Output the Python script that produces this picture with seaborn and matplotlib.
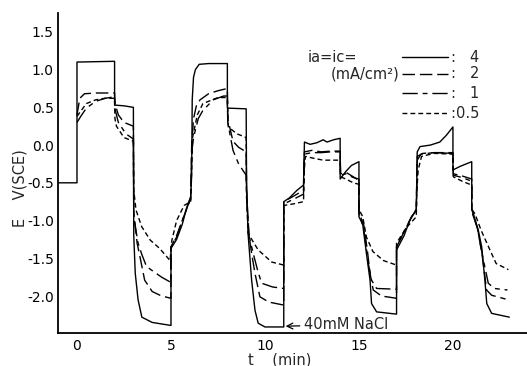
import matplotlib
matplotlib.use("Agg")
import matplotlib.pyplot as plt
import pandas as pd
import seaborn as sns
from matplotlib.lines import Line2D

# Galvanostatic cycling: anodic step, reduced anodic step, cathodic step, reduced cathodic step
# E vs SCE (V) against time (min), one trace per current density ia = ic (mA/cm2)

t_4 = [-1.0, 0.0, 0.0, 2.0, 2.0, 2.5, 3.0,
       3.02, 3.1, 3.25, 3.45, 4.0, 5.0,
       5.0, 5.3, 5.6, 5.85, 6.05,
       6.1, 6.13, 6.2, 6.3, 6.5, 7.0, 8.0, 8.0, 9.0,
       9.02, 9.1, 9.29, 9.47, 9.64, 10.0, 11.0,
       11.0, 11.3, 11.7, 12.05,
       12.1, 12.4, 12.75, 13.1, 13.3, 13.65, 14.0, 14.0, 14.3, 14.6, 15.0,
       15.0, 15.2, 15.4, 15.59, 15.67, 15.94, 17.0,
       17.0, 17.4, 17.7, 18.05,
       18.1, 18.25, 18.8, 19.3, 19.65, 20.0, 20.0, 20.4, 21.0,
       21.0, 21.35, 21.53, 21.7, 21.8, 22.06, 23.0]
v_4 = [-0.5, -0.5, 1.10, 1.11, 0.53, 0.52, 0.50,
       -1.2, -1.7, -2.05, -2.28, -2.35, -2.39,
       -1.37, -1.25, -1.05, -0.82, -0.68,
       -0.4, 0.6, 0.9, 1.0, 1.07, 1.08, 1.08, 0.49, 0.48,
       -0.5, -1.17, -1.79, -2.19, -2.36, -2.41, -2.41,
       -0.75, -0.70, -0.60, -0.53,
       0.04, 0.01, 0.03, 0.07, 0.04, 0.07, 0.09, -0.45, -0.35, -0.27, -0.22,
       -0.95, -1.05, -1.44, -1.79, -2.10, -2.21, -2.24,
       -1.39, -1.2, -1.0, -0.85,
       -0.09, -0.02, 0.0, 0.04, 0.13, 0.24, -0.33, -0.28, -0.22,
       -0.84, -1.13, -1.35, -1.79, -2.10, -2.23, -2.28]

t_2 = [0.0, 0.15, 0.4, 1.0, 2.0, 2.02, 2.2, 2.5, 3.0,
       3.02, 3.2, 3.35, 3.6, 4.0, 4.5, 5.0,
       5.0, 5.3, 5.6, 5.9, 6.05,
       6.1, 6.2, 6.35, 6.55, 7.0, 7.5, 8.0, 8.02, 8.3, 8.6, 9.0,
       9.02, 9.15, 9.3, 9.47, 9.73, 10.2, 11.0,
       11.0, 11.5, 12.05,
       12.1, 12.5, 13.0, 13.5, 14.0, 14.02, 14.3, 14.7, 15.0,
       15.0, 15.25, 15.45, 15.59, 15.76, 16.2, 17.0,
       17.0, 17.4, 17.8, 18.05,
       18.1, 18.4, 19.0, 20.0, 20.02, 20.5, 21.0,
       21.0, 21.3, 21.55, 21.79, 22.06, 22.8]
v_2 = [0.40, 0.62, 0.68, 0.69, 0.69, 0.55, 0.40, 0.30, 0.25,
       -0.9, -1.3, -1.48, -1.79, -1.94, -2.0, -2.03,
       -1.35, -1.2, -1.0, -0.8, -0.7,
       0.0, 0.35, 0.52, 0.60, 0.68, 0.72, 0.75, 0.35, 0.05, -0.03, -0.09,
       -0.6, -1.2, -1.45, -1.70, -2.01, -2.08, -2.12,
       -0.75, -0.68, -0.6,
       -0.09, -0.07, -0.09, -0.08, -0.08, -0.38, -0.36, -0.42, -0.47,
       -0.9, -1.05, -1.4, -1.70, -1.92, -2.0, -2.03,
       -1.35, -1.15, -0.95, -0.85,
       -0.15, -0.11, -0.10, -0.10, -0.38, -0.41, -0.45,
       -0.85, -1.1, -1.45, -1.92, -1.99, -2.04]

t_1 = [0.0, 0.2, 0.5, 1.0, 1.5, 2.0, 2.02, 2.2, 2.6, 3.0,
       3.02, 3.25, 3.45, 3.7, 4.5, 5.0,
       5.0, 5.3, 5.6, 5.9, 6.05,
       6.1, 6.2, 6.45, 6.7, 7.25, 7.8, 8.0, 8.02, 8.3, 8.6, 9.0,
       9.02, 9.15, 9.38, 9.6, 9.82, 10.4, 11.0,
       11.0, 11.5, 12.05,
       12.1, 12.5, 13.0, 13.5, 14.0, 14.02, 14.3, 14.7, 15.0,
       15.0, 15.25, 15.5, 15.67, 15.94, 17.0,
       17.0, 17.4, 17.8, 18.05,
       18.1, 18.3, 19.0, 20.0, 20.02, 20.5, 21.0,
       21.0, 21.3, 21.6, 21.88, 22.2, 22.9]
v_1 = [0.30, 0.38, 0.49, 0.58, 0.62, 0.64, 0.48, 0.30, 0.15, 0.08,
       -0.95, -1.30, -1.45, -1.61, -1.75, -1.82,
       -1.35, -1.22, -1.0, -0.8, -0.72,
       -0.1, 0.1, 0.35, 0.46, 0.60, 0.65, 0.65, 0.30, -0.07, -0.25, -0.40,
       -0.7, -1.2, -1.44, -1.65, -1.83, -1.88, -1.90,
       -0.78, -0.72, -0.65,
       -0.12, -0.10, -0.10, -0.09, -0.09, -0.40, -0.38, -0.43, -0.45,
       -0.9, -1.1, -1.57, -1.79, -1.9, -1.91,
       -1.35, -1.15, -0.95, -0.87,
       -0.2, -0.12, -0.10, -0.11, -0.40, -0.43, -0.48,
       -0.88, -1.1, -1.5, -1.83, -1.9, -1.92]

t_05 = [0.0, 0.2, 0.5, 1.0, 1.5, 2.0, 2.02, 2.1, 2.5, 3.0,
        3.02, 3.14, 3.44, 3.9, 4.4, 4.95,
        5.05, 5.3, 5.7, 6.05,
        6.15, 6.4, 6.7, 7.5, 8.0, 8.05, 8.5, 9.0,
        9.02, 9.1, 9.64, 10.36, 11.0,
        11.0, 11.5, 12.05,
        12.1, 12.15, 12.5, 13.1, 14.0, 14.02, 14.3, 14.7, 15.0,
        15.0, 15.2, 15.4, 15.74, 16.3, 17.0,
        17.0, 17.5, 18.05,
        18.08, 18.15, 18.33, 19.0, 20.0, 20.02, 20.5, 21.0,
        21.0, 21.17, 21.5, 21.97, 22.3, 22.95]
v_05 = [0.38, 0.45, 0.55, 0.60, 0.62, 0.62, 0.35, 0.25, 0.10, 0.05,
        -0.6, -0.86, -1.08, -1.26, -1.37, -1.53,
        -1.26, -1.0, -0.8, -0.75,
        0.1, 0.4, 0.55, 0.63, 0.63, 0.24, 0.15, 0.10,
        -0.6, -1.17, -1.39, -1.55, -1.59,
        -0.8, -0.78, -0.75,
        -0.3, -0.15, -0.17, -0.2, -0.2, -0.42, -0.45, -0.5, -0.52,
        -0.85, -0.95, -1.22, -1.41, -1.53, -1.59,
        -1.30, -1.1, -0.95,
        -0.6, -0.33, -0.15, -0.11, -0.12, -0.42, -0.48, -0.53,
        -0.85, -0.91, -1.13, -1.39, -1.57, -1.65]

currents = ["4", "2", "1", "0.5"]
x_ticks = [0, 5, 10, 15, 20]
y_ticks = [1.5, 1.0, 0.5, 0.0, -0.5, -1.0, -1.5, -2.0]
y_tick_labels = ["1.5", "1.0", "0.5", "0.0", "-0.5", "-1.0", "-1.5", "-2.0"]

series = [(t_4, v_4), (t_2, v_2), (t_1, v_1), (t_05, v_05)]
line_styles = ["-", (0, (9, 3.5)), (0, (11, 3.5, 3.5, 3.5)), (0, (3.5, 2.2))]

sns.set_theme(style="white")
plt.rcParams["font.family"] = ["DejaVu Sans"]

W, H = 527, 366
fig = plt.figure(figsize=(W / 100, H / 100), dpi=100)
ax = fig.add_axes([58 / W, 33 / H, 1 - 58 / W, 320 / H])

for (t, v), ls in zip(series, line_styles):
    df = pd.DataFrame({"t": t, "E": v})
    sns.lineplot(data=df, x="t", y="E", ax=ax, sort=False, estimator=None,
                 color="black", linewidth=1.0, linestyle=ls)

ax.set_xlim(-1.01, 23.94)
ax.set_ylim(-2.49, 1.75)
ax.set_xticks(x_ticks)
ax.set_xticklabels([str(x) for x in x_ticks])
ax.set_yticks(y_ticks)
ax.set_yticklabels(y_tick_labels)
ax.set_xlabel("")
ax.set_ylabel("")
ax.tick_params(axis="x", direction="in", length=7, width=1.1, pad=4,
               labelsize=10, colors="black")
ax.tick_params(axis="y", direction="in", length=8, width=1.1, pad=3,
               labelsize=10, colors="black")
for side in ("top", "right"):
    ax.spines[side].set_visible(False)
for side in ("left", "bottom"):
    ax.spines[side].set_color("black")
    ax.spines[side].set_linewidth(1.3)


def fx(px):
    return px / W


def fy(py):
    return 1 - py / H


fig.text(fx(280), fy(360), "t    (min)", ha="center", va="center", fontsize=10.5)
fig.text(fx(20), fy(188), "E    V(SCE)", ha="center", va="center",
         rotation=90, fontsize=10.5)

# legend drawn as a small key table
fig.text(fx(308), fy(57), "ia=ic=", ha="left", va="center", fontsize=10.5)
fig.text(fx(399), fy(74), "(mA/cm²)", ha="right", va="center", fontsize=10.5)
for row_y, ls, lab in zip([57, 74, 93, 113], line_styles, currents):
    fig.add_artist(Line2D([fx(402), fx(448)], [fy(row_y), fy(row_y)],
                          transform=fig.transFigure, color="black",
                          linewidth=1.0, linestyle=ls))
    fig.text(fx(453), fy(row_y), ":", ha="center", va="center", fontsize=10.5)
    fig.text(fx(479), fy(row_y), lab, ha="right", va="center", fontsize=10.5)

ax.annotate("40mM NaCl", xy=(11.1, -2.40), xytext=(12.1, -2.38),
            ha="left", va="center", fontsize=10.5,
            arrowprops=dict(arrowstyle="->", color="black", lw=0.9,
                            shrinkA=1, shrinkB=0))

fig.savefig("out.png", dpi=100)
